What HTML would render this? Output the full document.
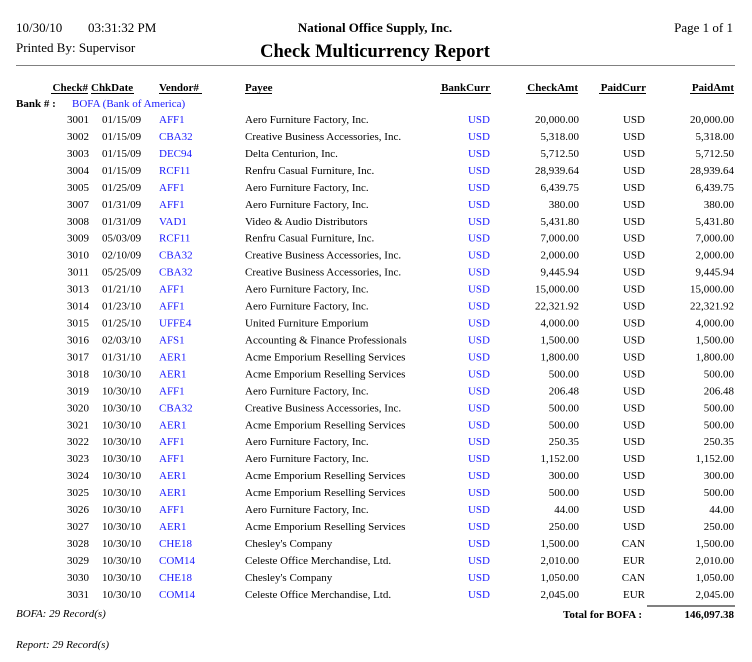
<!DOCTYPE html>
<html><head><meta charset="utf-8"><style>
html,body{margin:0;padding:0;background:#fff;}
svg{display:block;}
text{font-family:"Liberation Serif","Times New Roman",serif;fill:#000;}
.d{font-size:11px;}
.b{fill:#1a1aff;}
.h{font-size:11px;font-weight:bold;}
</style></head><body>
<svg width="752" height="662" viewBox="0 0 752 662" xmlns="http://www.w3.org/2000/svg">
<rect width="752" height="662" fill="#fff"/>
<text x="16" y="32" font-size="13">10/30/10</text>
<text x="88" y="32" font-size="13">03:31:32 PM</text>
<text x="16" y="52" font-size="13">Printed By: Supervisor</text>
<text x="375" y="32" font-size="13" font-weight="bold" text-anchor="middle">National Office Supply, Inc.</text>
<text x="375" y="57" font-size="18.5" font-weight="bold" text-anchor="middle">Check Multicurrency Report</text>
<text x="733" y="32" font-size="13" text-anchor="end">Page 1 of  1</text>
<line x1="16" y1="65.5" x2="735" y2="65.5" stroke="#808080" stroke-width="1"/>

<g class="h">
<text class="h" x="88" y="91" text-anchor="end">Check#</text>
<text class="h" x="91" y="91">ChkDate</text>
<text class="h" x="159" y="91">Vendor#</text>
<text class="h" x="245" y="91">Payee</text>
<text class="h" x="490" y="91" text-anchor="end">BankCurr</text>
<text class="h" x="578" y="91" text-anchor="end">CheckAmt</text>
<text class="h" x="646" y="91" text-anchor="end">PaidCurr</text>
<text class="h" x="734" y="91" text-anchor="end">PaidAmt</text>
</g>
<g stroke="#000" stroke-width="1">
<line x1="51" y1="93.5" x2="88" y2="93.5"/>
<line x1="91" y1="93.5" x2="134" y2="93.5"/>
<line x1="159" y1="93.5" x2="202" y2="93.5"/>
<line x1="245" y1="93.5" x2="272" y2="93.5"/>
<line x1="440" y1="93.5" x2="491" y2="93.5"/>
<line x1="526" y1="93.5" x2="578" y2="93.5"/>
<line x1="599" y1="93.5" x2="646" y2="93.5"/>
<line x1="690" y1="93.5" x2="734" y2="93.5"/>
</g>
<text class="h" x="16" y="107">Bank # :</text>
<text class="d b" x="72" y="107">BOFA (Bank of America)</text>

<g class="d">
<text y="123"><tspan x="89" text-anchor="end">3001</tspan></text><text x="102" y="123">01/15/09</text><text class="b" x="159" y="123">AFF1</text><text x="245" y="123">Aero Furniture Factory, Inc.</text><text class="b" x="490" y="123" text-anchor="end">USD</text><text x="579" y="123" text-anchor="end">20,000.00</text><text x="645" y="123" text-anchor="end">USD</text><text x="734" y="123" text-anchor="end">20,000.00</text>
<text x="89" y="140" text-anchor="end">3002</text><text x="102" y="140">01/15/09</text><text class="b" x="159" y="140">CBA32</text><text x="245" y="140">Creative Business Accessories, Inc.</text><text class="b" x="490" y="140" text-anchor="end">USD</text><text x="579" y="140" text-anchor="end">5,318.00</text><text x="645" y="140" text-anchor="end">USD</text><text x="734" y="140" text-anchor="end">5,318.00</text>
<text x="89" y="156.9" text-anchor="end">3003</text><text x="102" y="156.9">01/15/09</text><text class="b" x="159" y="156.9">DEC94</text><text x="245" y="156.9">Delta Centurion, Inc.</text><text class="b" x="490" y="156.9" text-anchor="end">USD</text><text x="579" y="156.9" text-anchor="end">5,712.50</text><text x="645" y="156.9" text-anchor="end">USD</text><text x="734" y="156.9" text-anchor="end">5,712.50</text>
<text x="89" y="173.9" text-anchor="end">3004</text><text x="102" y="173.9">01/15/09</text><text class="b" x="159" y="173.9">RCF11</text><text x="245" y="173.9">Renfru Casual Furniture, Inc.</text><text class="b" x="490" y="173.9" text-anchor="end">USD</text><text x="579" y="173.9" text-anchor="end">28,939.64</text><text x="645" y="173.9" text-anchor="end">USD</text><text x="734" y="173.9" text-anchor="end">28,939.64</text>
<text x="89" y="190.8" text-anchor="end">3005</text><text x="102" y="190.8">01/25/09</text><text class="b" x="159" y="190.8">AFF1</text><text x="245" y="190.8">Aero Furniture Factory, Inc.</text><text class="b" x="490" y="190.8" text-anchor="end">USD</text><text x="579" y="190.8" text-anchor="end">6,439.75</text><text x="645" y="190.8" text-anchor="end">USD</text><text x="734" y="190.8" text-anchor="end">6,439.75</text>
<text x="89" y="207.8" text-anchor="end">3007</text><text x="102" y="207.8">01/31/09</text><text class="b" x="159" y="207.8">AFF1</text><text x="245" y="207.8">Aero Furniture Factory, Inc.</text><text class="b" x="490" y="207.8" text-anchor="end">USD</text><text x="579" y="207.8" text-anchor="end">380.00</text><text x="645" y="207.8" text-anchor="end">USD</text><text x="734" y="207.8" text-anchor="end">380.00</text>
<text x="89" y="224.8" text-anchor="end">3008</text><text x="102" y="224.8">01/31/09</text><text class="b" x="159" y="224.8">VAD1</text><text x="245" y="224.8">Video &amp; Audio Distributors</text><text class="b" x="490" y="224.8" text-anchor="end">USD</text><text x="579" y="224.8" text-anchor="end">5,431.80</text><text x="645" y="224.8" text-anchor="end">USD</text><text x="734" y="224.8" text-anchor="end">5,431.80</text>
<text x="89" y="241.7" text-anchor="end">3009</text><text x="102" y="241.7">05/03/09</text><text class="b" x="159" y="241.7">RCF11</text><text x="245" y="241.7">Renfru Casual Furniture, Inc.</text><text class="b" x="490" y="241.7" text-anchor="end">USD</text><text x="579" y="241.7" text-anchor="end">7,000.00</text><text x="645" y="241.7" text-anchor="end">USD</text><text x="734" y="241.7" text-anchor="end">7,000.00</text>
<text x="89" y="258.7" text-anchor="end">3010</text><text x="102" y="258.7">02/10/09</text><text class="b" x="159" y="258.7">CBA32</text><text x="245" y="258.7">Creative Business Accessories, Inc.</text><text class="b" x="490" y="258.7" text-anchor="end">USD</text><text x="579" y="258.7" text-anchor="end">2,000.00</text><text x="645" y="258.7" text-anchor="end">USD</text><text x="734" y="258.7" text-anchor="end">2,000.00</text>
<text x="89" y="275.6" text-anchor="end">3011</text><text x="102" y="275.6">05/25/09</text><text class="b" x="159" y="275.6">CBA32</text><text x="245" y="275.6">Creative Business Accessories, Inc.</text><text class="b" x="490" y="275.6" text-anchor="end">USD</text><text x="579" y="275.6" text-anchor="end">9,445.94</text><text x="645" y="275.6" text-anchor="end">USD</text><text x="734" y="275.6" text-anchor="end">9,445.94</text>
<text x="89" y="292.6" text-anchor="end">3013</text><text x="102" y="292.6">01/21/10</text><text class="b" x="159" y="292.6">AFF1</text><text x="245" y="292.6">Aero Furniture Factory, Inc.</text><text class="b" x="490" y="292.6" text-anchor="end">USD</text><text x="579" y="292.6" text-anchor="end">15,000.00</text><text x="645" y="292.6" text-anchor="end">USD</text><text x="734" y="292.6" text-anchor="end">15,000.00</text>
<text x="89" y="309.6" text-anchor="end">3014</text><text x="102" y="309.6">01/23/10</text><text class="b" x="159" y="309.6">AFF1</text><text x="245" y="309.6">Aero Furniture Factory, Inc.</text><text class="b" x="490" y="309.6" text-anchor="end">USD</text><text x="579" y="309.6" text-anchor="end">22,321.92</text><text x="645" y="309.6" text-anchor="end">USD</text><text x="734" y="309.6" text-anchor="end">22,321.92</text>
<text x="89" y="326.5" text-anchor="end">3015</text><text x="102" y="326.5">01/25/10</text><text class="b" x="159" y="326.5">UFFE4</text><text x="245" y="326.5">United Furniture Emporium</text><text class="b" x="490" y="326.5" text-anchor="end">USD</text><text x="579" y="326.5" text-anchor="end">4,000.00</text><text x="645" y="326.5" text-anchor="end">USD</text><text x="734" y="326.5" text-anchor="end">4,000.00</text>
<text x="89" y="343.5" text-anchor="end">3016</text><text x="102" y="343.5">02/03/10</text><text class="b" x="159" y="343.5">AFS1</text><text x="245" y="343.5">Accounting &amp; Finance Professionals</text><text class="b" x="490" y="343.5" text-anchor="end">USD</text><text x="579" y="343.5" text-anchor="end">1,500.00</text><text x="645" y="343.5" text-anchor="end">USD</text><text x="734" y="343.5" text-anchor="end">1,500.00</text>
<text x="89" y="360.4" text-anchor="end">3017</text><text x="102" y="360.4">01/31/10</text><text class="b" x="159" y="360.4">AER1</text><text x="245" y="360.4">Acme Emporium Reselling Services</text><text class="b" x="490" y="360.4" text-anchor="end">USD</text><text x="579" y="360.4" text-anchor="end">1,800.00</text><text x="645" y="360.4" text-anchor="end">USD</text><text x="734" y="360.4" text-anchor="end">1,800.00</text>
<text x="89" y="377.4" text-anchor="end">3018</text><text x="102" y="377.4">10/30/10</text><text class="b" x="159" y="377.4">AER1</text><text x="245" y="377.4">Acme Emporium Reselling Services</text><text class="b" x="490" y="377.4" text-anchor="end">USD</text><text x="579" y="377.4" text-anchor="end">500.00</text><text x="645" y="377.4" text-anchor="end">USD</text><text x="734" y="377.4" text-anchor="end">500.00</text>
<text x="89" y="394.4" text-anchor="end">3019</text><text x="102" y="394.4">10/30/10</text><text class="b" x="159" y="394.4">AFF1</text><text x="245" y="394.4">Aero Furniture Factory, Inc.</text><text class="b" x="490" y="394.4" text-anchor="end">USD</text><text x="579" y="394.4" text-anchor="end">206.48</text><text x="645" y="394.4" text-anchor="end">USD</text><text x="734" y="394.4" text-anchor="end">206.48</text>
<text x="89" y="411.3" text-anchor="end">3020</text><text x="102" y="411.3">10/30/10</text><text class="b" x="159" y="411.3">CBA32</text><text x="245" y="411.3">Creative Business Accessories, Inc.</text><text class="b" x="490" y="411.3" text-anchor="end">USD</text><text x="579" y="411.3" text-anchor="end">500.00</text><text x="645" y="411.3" text-anchor="end">USD</text><text x="734" y="411.3" text-anchor="end">500.00</text>
<text x="89" y="428.3" text-anchor="end">3021</text><text x="102" y="428.3">10/30/10</text><text class="b" x="159" y="428.3">AER1</text><text x="245" y="428.3">Acme Emporium Reselling Services</text><text class="b" x="490" y="428.3" text-anchor="end">USD</text><text x="579" y="428.3" text-anchor="end">500.00</text><text x="645" y="428.3" text-anchor="end">USD</text><text x="734" y="428.3" text-anchor="end">500.00</text>
<text x="89" y="445.2" text-anchor="end">3022</text><text x="102" y="445.2">10/30/10</text><text class="b" x="159" y="445.2">AFF1</text><text x="245" y="445.2">Aero Furniture Factory, Inc.</text><text class="b" x="490" y="445.2" text-anchor="end">USD</text><text x="579" y="445.2" text-anchor="end">250.35</text><text x="645" y="445.2" text-anchor="end">USD</text><text x="734" y="445.2" text-anchor="end">250.35</text>
<text x="89" y="462.2" text-anchor="end">3023</text><text x="102" y="462.2">10/30/10</text><text class="b" x="159" y="462.2">AFF1</text><text x="245" y="462.2">Aero Furniture Factory, Inc.</text><text class="b" x="490" y="462.2" text-anchor="end">USD</text><text x="579" y="462.2" text-anchor="end">1,152.00</text><text x="645" y="462.2" text-anchor="end">USD</text><text x="734" y="462.2" text-anchor="end">1,152.00</text>
<text x="89" y="479.2" text-anchor="end">3024</text><text x="102" y="479.2">10/30/10</text><text class="b" x="159" y="479.2">AER1</text><text x="245" y="479.2">Acme Emporium Reselling Services</text><text class="b" x="490" y="479.2" text-anchor="end">USD</text><text x="579" y="479.2" text-anchor="end">300.00</text><text x="645" y="479.2" text-anchor="end">USD</text><text x="734" y="479.2" text-anchor="end">300.00</text>
<text x="89" y="496.1" text-anchor="end">3025</text><text x="102" y="496.1">10/30/10</text><text class="b" x="159" y="496.1">AER1</text><text x="245" y="496.1">Acme Emporium Reselling Services</text><text class="b" x="490" y="496.1" text-anchor="end">USD</text><text x="579" y="496.1" text-anchor="end">500.00</text><text x="645" y="496.1" text-anchor="end">USD</text><text x="734" y="496.1" text-anchor="end">500.00</text>
<text x="89" y="513.1" text-anchor="end">3026</text><text x="102" y="513.1">10/30/10</text><text class="b" x="159" y="513.1">AFF1</text><text x="245" y="513.1">Aero Furniture Factory, Inc.</text><text class="b" x="490" y="513.1" text-anchor="end">USD</text><text x="579" y="513.1" text-anchor="end">44.00</text><text x="645" y="513.1" text-anchor="end">USD</text><text x="734" y="513.1" text-anchor="end">44.00</text>
<text x="89" y="530" text-anchor="end">3027</text><text x="102" y="530">10/30/10</text><text class="b" x="159" y="530">AER1</text><text x="245" y="530">Acme Emporium Reselling Services</text><text class="b" x="490" y="530" text-anchor="end">USD</text><text x="579" y="530" text-anchor="end">250.00</text><text x="645" y="530" text-anchor="end">USD</text><text x="734" y="530" text-anchor="end">250.00</text>
<text x="89" y="547" text-anchor="end">3028</text><text x="102" y="547">10/30/10</text><text class="b" x="159" y="547">CHE18</text><text x="245" y="547">Chesley's Company</text><text class="b" x="490" y="547" text-anchor="end">USD</text><text x="579" y="547" text-anchor="end">1,500.00</text><text x="645" y="547" text-anchor="end">CAN</text><text x="734" y="547" text-anchor="end">1,500.00</text>
<text x="89" y="564" text-anchor="end">3029</text><text x="102" y="564">10/30/10</text><text class="b" x="159" y="564">COM14</text><text x="245" y="564">Celeste Office Merchandise, Ltd.</text><text class="b" x="490" y="564" text-anchor="end">USD</text><text x="579" y="564" text-anchor="end">2,010.00</text><text x="645" y="564" text-anchor="end">EUR</text><text x="734" y="564" text-anchor="end">2,010.00</text>
<text x="89" y="580.9" text-anchor="end">3030</text><text x="102" y="580.9">10/30/10</text><text class="b" x="159" y="580.9">CHE18</text><text x="245" y="580.9">Chesley's Company</text><text class="b" x="490" y="580.9" text-anchor="end">USD</text><text x="579" y="580.9" text-anchor="end">1,050.00</text><text x="645" y="580.9" text-anchor="end">CAN</text><text x="734" y="580.9" text-anchor="end">1,050.00</text>
<text x="89" y="597.9" text-anchor="end">3031</text><text x="102" y="597.9">10/30/10</text><text class="b" x="159" y="597.9">COM14</text><text x="245" y="597.9">Celeste Office Merchandise, Ltd.</text><text class="b" x="490" y="597.9" text-anchor="end">USD</text><text x="579" y="597.9" text-anchor="end">2,045.00</text><text x="645" y="597.9" text-anchor="end">EUR</text><text x="734" y="597.9" text-anchor="end">2,045.00</text>
</g>

<line x1="647" y1="606" x2="735" y2="606" stroke="#808080" stroke-width="2"/>
<text x="16" y="617" font-size="11" font-style="italic">BOFA: 29 Record(s)</text>
<text x="642" y="618" font-size="11" font-weight="bold" text-anchor="end">Total for BOFA :</text>
<text x="734" y="618" font-size="11" font-weight="bold" text-anchor="end">146,097.38</text>
<text x="16" y="648" font-size="11" font-style="italic">Report: 29 Record(s)</text>
</svg>
</body></html>
